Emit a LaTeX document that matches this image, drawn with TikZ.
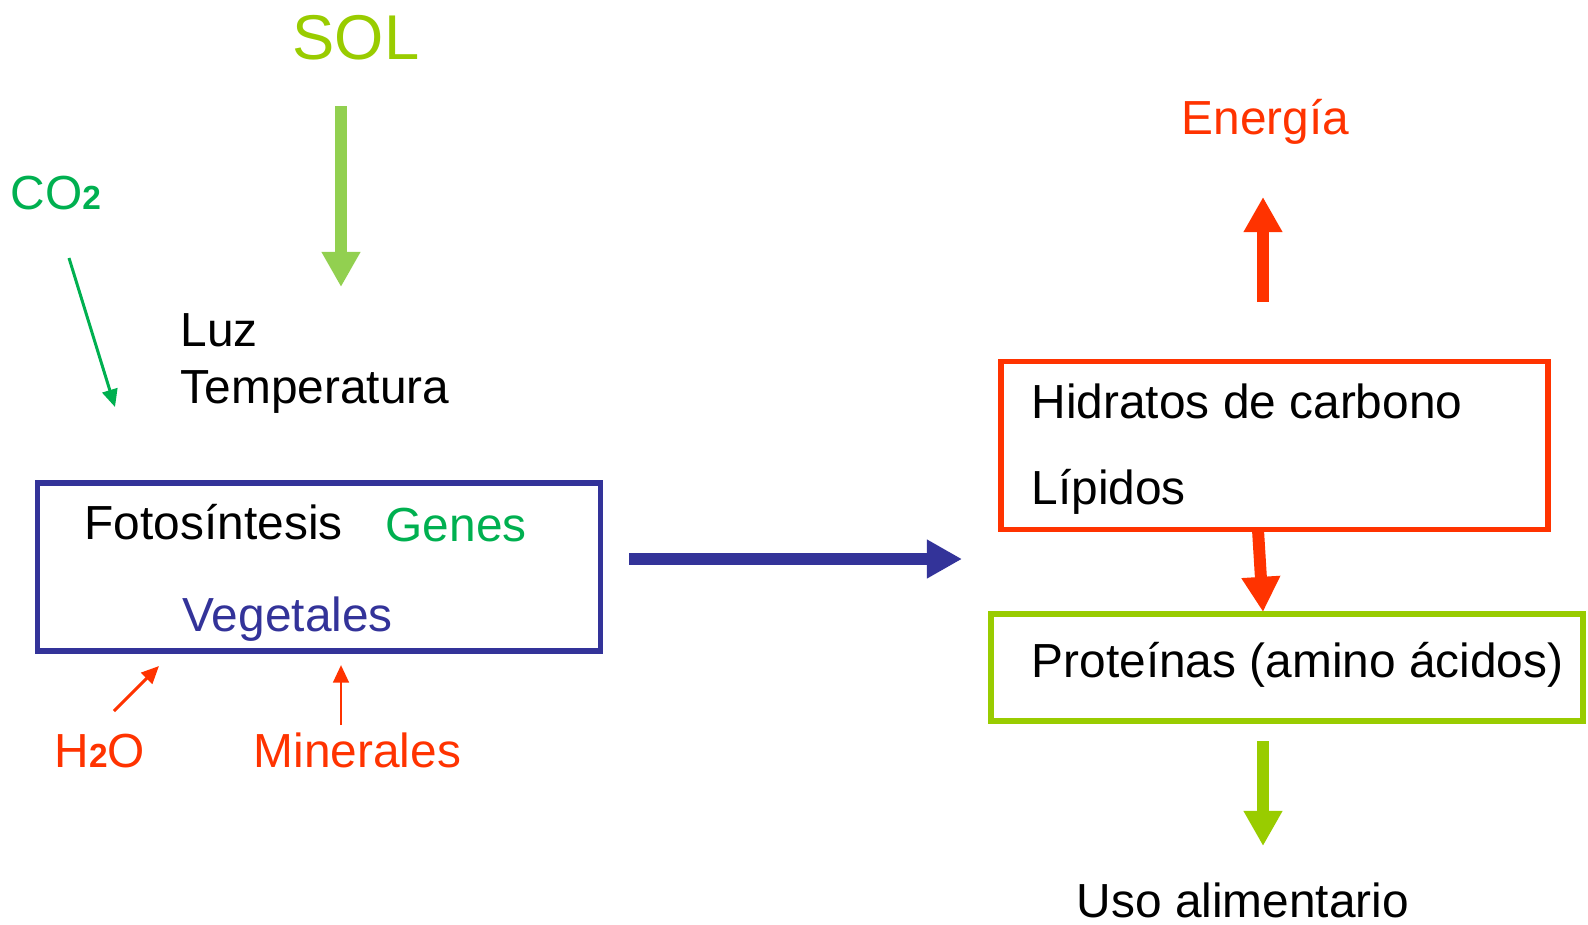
\documentclass[tikz,border=0pt]{standalone}
\usepackage{fontspec}
\setmainfont{Liberation Sans}
\usetikzlibrary{arrows.meta,positioning}
\definecolor{solgreen}{HTML}{99CC00}
\definecolor{rayos}{HTML}{92D050}
\definecolor{gasgreen}{HTML}{00B050}
\definecolor{rojo}{HTML}{FF3300}
\definecolor{azul}{HTML}{333399}

\begin{document}
\begin{tikzpicture}[
    x=0.01cm, y=-0.01cm,
    every node/.style={font=\fontsize{13.6}{16}\selectfont, inner sep=0pt, anchor=base west},
    frame/.style={
        rectangle, draw, line width=1.6pt, anchor=center
    },
    fatarr/.style={-{Triangle[length=10pt,width=10.4pt]}, line width=3.4pt},
    thinarr/.style={-{Triangle[length=5pt,width=4.4pt]}, line width=0.85pt}
]
\useasboundingbox (0,0) rectangle (1588,924);

% --- Sun and inputs ---
\node[font=\fontsize{18}{20}\selectfont, text=solgreen, anchor=base] (sol) at (356,59) {SOL};
\node[text=gasgreen] (co2) at (10,209) {CO{\fontsize{9.5}{10}\selectfont\bfseries 2}};
\node (luz) at (180,346) {Luz};
\node (temp) at (180,403) {Temperatura};

% --- Photosynthesis box ---
\node[frame, draw=azul, minimum width=5.63cm, minimum height=1.68cm] (veg) at (319,567) {};
\node (foto) at (84,539) {Fotos\'intesis};
\node[text=gasgreen] (genes) at (385,541) {Genes};
\node[text=azul] (vegtxt) at (182,631) {Vegetales};

% --- Soil inputs ---
\node[text=rojo] (h2o) at (54,767) {H{\fontsize{9.5}{10}\selectfont\bfseries 2}O};
\node[text=rojo] (min) at (253,767) {Minerales};

% --- Products ---
\node[text=rojo] (energia) at (1181,134) {Energ\'ia};
\node[frame, draw=rojo, minimum width=5.47cm, minimum height=1.68cm] (hc) at (1274.5,445.5) {};
\node (hidratos) at (1031,418) {Hidratos de carbono};
\node (lip) at (1031,504) {L\'ipidos};
\node[frame, draw=solgreen, minimum width=5.92cm, minimum height=1.07cm] (prot) at (1287,667.5) {};
\node (proteinas) at (1031,677) {Prote\'inas (amino \'acidos)};
\node (uso) at (1076,917) {Uso alimentario};

% --- Arrow ends ---
\coordinate (sol-a) at (341,106);
\coordinate (sol-b) at (341,287);
\coordinate (co2-a) at (69,258);
\coordinate (co2-b) at (115,407);
\coordinate (h2o-a) at (114,711);
\coordinate (h2o-b) at (159,666);
\coordinate (min-a) at (341,725);
\coordinate (min-b) at (341,665);
\coordinate (veg-a) at (629,559);
\coordinate (veg-b) at (962,559);
\coordinate (en-a) at (1263,302);
\coordinate (en-b) at (1263,197);
\coordinate (hc-a) at (1258,530);
\coordinate (hc-b) at (1263,612);
\coordinate (uso-a) at (1263,741);
\coordinate (uso-b) at (1263,846);

% --- Arrows ---
\draw[fatarr, rayos] (sol-a) -- (sol-b);
\draw[thinarr, gasgreen] (co2-a) -- (co2-b);
\draw[thinarr, rojo] (h2o-a) -- (h2o-b);
\draw[thinarr, rojo] (min-a) -- (min-b);
\draw[fatarr, azul] (veg-a) -- (veg-b);
\draw[fatarr, rojo] (en-a) -- (en-b);
\draw[fatarr, rojo] (hc-a) -- (hc-b);
\draw[fatarr, solgreen] (uso-a) -- (uso-b);

\end{tikzpicture}
\end{document}
